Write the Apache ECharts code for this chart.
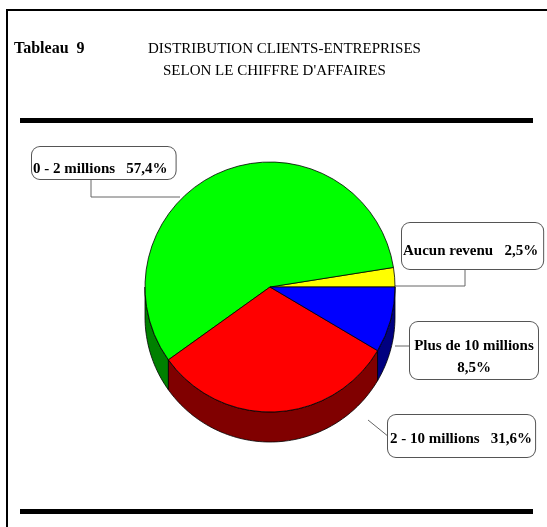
<!DOCTYPE html>
<html><head><meta charset="utf-8">
<script src="https://cdn.jsdelivr.net/npm/echarts@6/dist/echarts.min.js"></script>
<style>html,body{margin:0;padding:0;background:#fff}#c{width:547px;height:527px}</style>
</head><body><div id="c"></div>
<script>
// ---- data ----
const categories = ['Aucun revenu', '0 - 2 millions', '2 - 10 millions', 'Plus de 10 millions'];
const values = [2.5, 57.4, 31.6, 8.5];
const valueLabels = ['2,5%', '57,4%', '31,6%', '8,5%'];
const tableLabel = 'Tableau  9';
const titleLines = ['DISTRIBUTION CLIENTS-ENTREPRISES', "SELON LE CHIFFRE D'AFFAIRES"];

// ---- styles / layout ----
const topColors = ['#FFFF00', '#00FF00', '#FF0000', '#0000FF'];
const sideColors = ['#808000', '#008000', '#800000', '#000080'];
const CX = 270, CY = 287, R = 125, DEPTH = 30;
const labelFont = {fontFamily: 'Liberation Serif', fontWeight: 'bold', fontSize: 15, color: '#000'};
const labelBoxes = [
  {x: 402, y: 223, align: 'left', padding: [21, 5, 10, 1], line: [[395, 286], [465, 286], [465, 269]]},
  {x: 32, y: 147, align: 'left', padding: [15, 8, 2, 1], line: [[180, 197], [91, 197], [91, 179]]},
  {x: 388, y: 415, align: 'left', padding: [17, 3, 10, 2], line: [[368, 420], [389, 437]]},
  {x: 474, y: 322, align: 'center', padding: [13, 0, 0, 0], width: 128, lineHeight: 22, line: [[395, 346], [410, 346]]}
];

const total = values.reduce((a, b) => a + b, 0);
function sliceAngles(i) {
  let s = 0;
  for (let k = 0; k < i; k++) s += values[k] / total * 360;
  return [s, s + values[i] / total * 360];
}
function pt(a, dy) {
  const r = a * Math.PI / 180;
  return [CX + R * Math.cos(r), CY - R * Math.sin(r) + dy];
}
function renderSide(params) {
  const i = params.dataIndex;
  const [s, e] = sliceAngles(i);
  const a1 = Math.max(s, 180), a2 = Math.min(e, 360);
  if (a2 <= a1) return null;
  const n = Math.max(2, Math.ceil((a2 - a1) / 1.5));
  const pts = [];
  for (let j = 0; j <= n; j++) pts.push(pt(a1 + (a2 - a1) * j / n, 0));
  for (let j = n; j >= 0; j--) pts.push(pt(a1 + (a2 - a1) * j / n, DEPTH));
  return {type: 'polygon', shape: {points: pts}, style: {fill: sideColors[i], stroke: '#000', lineWidth: 0.8}};
}

const chart = echarts.init(document.getElementById('c'), null, {renderer: 'canvas'});
chart.setOption({
  animation: false,
  backgroundColor: '#fff',
  graphic: [
    {type: 'rect', shape: {x: 6, y: 9, width: 541, height: 2}, style: {fill: '#000'}},
    {type: 'rect', shape: {x: 6, y: 9, width: 2, height: 518}, style: {fill: '#000'}},
    {type: 'rect', shape: {x: 20, y: 118, width: 513, height: 5}, style: {fill: '#000'}},
    {type: 'rect', shape: {x: 20, y: 509, width: 513, height: 5}, style: {fill: '#000'}},
    {type: 'text', x: 14, y: 49, style: {text: tableLabel, fontFamily: 'Liberation Serif', fontWeight: 'bold', fontSize: 16, fill: '#000', verticalAlign: 'middle'}},
    {type: 'text', x: 148, y: 49, style: {text: titleLines[0], fontFamily: 'Liberation Serif', fontSize: 15, fill: '#000', verticalAlign: 'middle'}},
    {type: 'text', x: 163, y: 71, style: {text: titleLines[1], fontFamily: 'Liberation Serif', fontSize: 15, fill: '#000', verticalAlign: 'middle'}}
  ],
  series: [
    {
      type: 'custom',
      coordinateSystem: 'none',
      silent: true,
      z: 1,
      renderItem: renderSide,
      data: values.map((v, i) => [i, v])
    },
    {
      type: 'pie',
      z: 2,
      center: [CX, CY],
      radius: R,
      startAngle: 0,
      clockwise: false,
      avoidLabelOverlap: false,
      silent: true,
      emphasis: {disabled: true},
      itemStyle: {borderColor: '#000', borderWidth: 0.8},
      labelLine: {show: true, lineStyle: {color: '#666', width: 1}},
      labelLayout: function (p) {
        const b = labelBoxes[p.dataIndex];
        return {x: b.x, y: b.y, align: b.align, verticalAlign: 'top', labelLinePoints: b.line};
      },
      data: categories.map((name, i) => {
        const b = labelBoxes[i];
        const label = Object.assign({
          show: true,
          position: 'outside',
          formatter: i === 3 ? name + '\n' + valueLabels[i] : name + '   ' + valueLabels[i],
          backgroundColor: '#fff',
          borderColor: '#555',
          borderWidth: 1,
          borderRadius: 8,
          padding: b.padding,
          lineHeight: b.lineHeight || 15,
          align: b.align
        }, labelFont);
        if (b.width) label.width = b.width;
        return {name: name, value: values[i], itemStyle: {color: topColors[i]}, label: label};
      })
    }
  ]
});
</script>
</body></html>
